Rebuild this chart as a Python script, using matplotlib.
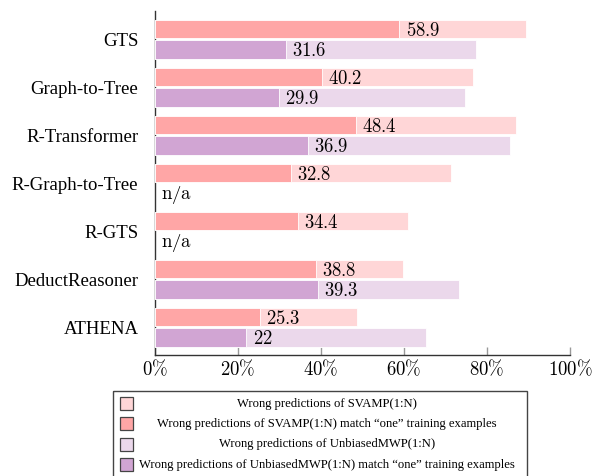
import matplotlib
matplotlib.use("Agg")
import matplotlib.pyplot as plt
from matplotlib.patches import Rectangle
from matplotlib.ticker import FuncFormatter

# ---------------- data ----------------
models = ["GTS", "Graph-to-Tree", "R-Transformer", "R-Graph-to-Tree",
          "R-GTS", "DeductReasoner", "ATHENA"]
svamp_wrong = [89.4, 76.6, 87.0, 71.3, 60.9, 59.7, 48.7]
svamp_match = [58.9, 40.2, 48.4, 32.8, 34.4, 38.8, 25.3]
unbiased_wrong = [77.3, 74.8, 85.5, None, None, 73.3, 65.2]
unbiased_match = [31.6, 29.9, 36.9, None, None, 39.3, 22.0]
xtick_values = [0, 20, 40, 60, 80, 100]
legend_labels = [
    "Wrong predictions of SVAMP(1:N)",
    "Wrong predictions of SVAMP(1:N) match \u201cone\u201d training examples",
    "Wrong predictions of UnbiasedMWP(1:N)",
    "Wrong predictions of UnbiasedMWP(1:N) match \u201cone\u201d training examples",
]

# ---------------- style ----------------
c_svamp_light = "#FFD6D7"
c_svamp_dark = "#FFA6A6"
c_unb_light = "#EBD8EB"
c_unb_dark = "#D1A5D3"
legend_colors = [c_svamp_light, c_svamp_dark, c_unb_light, c_unb_dark]

plt.rcParams["mathtext.fontset"] = "cm"
plt.rcParams["font.family"] = ["Liberation Serif", "DejaVu Serif"]

W, H = 592, 476
fig = plt.figure(figsize=(W / 100, H / 100), dpi=100)
ax = fig.add_axes([155 / W, 1 - 355 / H, 415 / W, 344 / H])

bh = 0.38
off_s, off_u = -0.215, 0.21
for i, m in enumerate(models):
    ys = i + off_s
    ax.barh(ys, svamp_wrong[i], height=bh, color=c_svamp_light,
            edgecolor="white", linewidth=0.6, zorder=3)
    ax.barh(ys, svamp_match[i], height=bh, color=c_svamp_dark,
            edgecolor="white", linewidth=0.6, zorder=4)
    ax.annotate(r"$%s$" % f"{svamp_match[i]:g}", (svamp_match[i], ys),
                xytext=(4.5, -1), textcoords="offset points",
                ha="left", va="center", fontsize=13.5, zorder=5)
    yu = i + off_u
    if unbiased_match[i] is None:
        ax.annotate(r"$\mathrm{n/a}$", (0, yu), xytext=(4.5, -1),
                    textcoords="offset points", ha="left", va="center",
                    fontsize=13.5, zorder=5)
    else:
        ax.barh(yu, unbiased_wrong[i], height=bh, color=c_unb_light,
                edgecolor="white", linewidth=0.6, zorder=3)
        ax.barh(yu, unbiased_match[i], height=bh, color=c_unb_dark,
                edgecolor="white", linewidth=0.6, zorder=4)
        ax.annotate(r"$%s$" % f"{unbiased_match[i]:g}", (unbiased_match[i], yu),
                    xytext=(4.5, -1), textcoords="offset points",
                    ha="left", va="center", fontsize=13.5, zorder=5)

ax.set_xlim(0, 100)
ax.set_ylim(6.573, -0.594)
ax.set_yticks(range(len(models)))
ax.set_yticklabels(models, fontsize=13.5)
ax.tick_params(axis="y", length=0, pad=12)
ax.set_xticks(xtick_values)
ax.xaxis.set_major_formatter(FuncFormatter(lambda v, p: r"$%d\%%$" % v))
ax.tick_params(axis="x", direction="in", length=6, width=1.0,
               color="#999999", labelsize=13.5, pad=3)
for s in ["top", "right"]:
    ax.spines[s].set_visible(False)
for s in ["left", "bottom"]:
    ax.spines[s].set_color("#333333")
    ax.spines[s].set_linewidth(1.0)
ax.spines["left"].set_zorder(2)

# ---------------- legend (boxed, centred entries) ----------------
lx0, ly0, lw, lh = 112, 390, 415, 92
lax = fig.add_axes([lx0 / W, 1 - (ly0 + lh) / H, lw / W, lh / H])
lax.set_xlim(0, lw)
lax.set_ylim(lh, 0)
lax.axis("off")
lax.add_patch(Rectangle((0.5, 0.5), lw - 1, lh - 1, fill=False,
                        edgecolor="#444444", linewidth=1.0, clip_on=False))
row_y = [13.7, 33.7, 54.5, 74.8]
text_cx = 215
for k, lab in enumerate(legend_labels):
    lax.add_patch(Rectangle((8, row_y[k] - 6.5), 13, 13,
                            facecolor=legend_colors[k], edgecolor="#444444",
                            linewidth=0.9))
    lax.text(text_cx, row_y[k], lab, ha="center", va="center",
             fontsize=9.1)

fig.savefig("out.png", dpi=100)
